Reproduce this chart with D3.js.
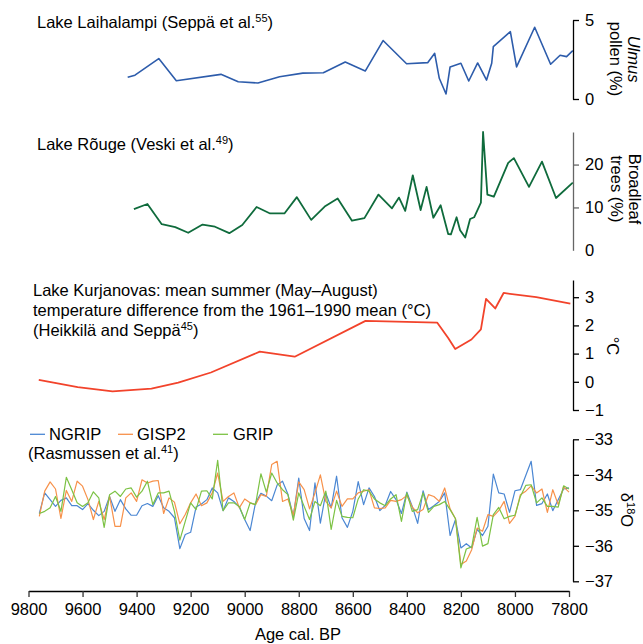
<!DOCTYPE html>
<html>
<head>
<meta charset="utf-8">
<script src="https://cdn.jsdelivr.net/npm/d3@7"></script>
<style>
  html, body { margin: 0; padding: 0; background: #fff; }
  svg { display: block; font-family: "Liberation Sans", Arial, Helvetica, sans-serif; }
</style>
</head>
<body>
<svg id="chart" width="643" height="644"></svg>
<script>
// ---- Lake Laihalampi: Ulmus pollen (%) ----
const laihalampiAge = [9433, 9406, 9318, 9253, 9088, 9024, 8951, 8871, 8785, 8709, 8628, 8554, 8488, 8401,
  8323, 8297, 8280, 8255, 8240, 8200, 8171, 8138, 8105, 8086, 8080, 8017, 7994, 7927, 7868, 7833, 7809, 7786];
const laihalampiUlmus = [1.37, 1.51, 2.56, 1.16, 1.56, 1.09, 1.01, 1.41, 1.64, 1.66, 2.34, 1.77, 3.70, 2.23,
  2.30, 2.89, 1.31, 0.32, 2.03, 2.26, 1.14, 2.28, 1.20, 2.26, 3.31, 4.26, 2.03, 4.54, 2.20, 2.77, 2.68, 3.06];

// ---- Lake Rõuge: broadleaf trees (%) ----
const rougeAge = [9410, 9360, 9307, 9257, 9209, 9156, 9110, 9057, 9009, 8956, 8906, 8853, 8807, 8754, 8704,
  8656, 8603, 8557, 8505, 8455, 8429, 8406, 8378, 8349, 8327, 8302, 8275, 8247, 8237, 8216, 8203, 8184, 8166,
  8151, 8126, 8118, 8102, 8078, 8025, 8004, 7948, 7900, 7848, 7786];
const rougeBroadleaf = [9.6, 10.8, 6.1, 5.4, 4.1, 6.0, 5.5, 4.0, 5.9, 10.1, 8.6, 8.6, 12.4, 7.1, 10.2,
  12.1, 6.9, 7.5, 13.0, 9.8, 12.3, 9.2, 17.5, 9.4, 14.8, 7.6, 10.5, 3.8, 3.7, 7.7, 4.7, 3.0, 7.3,
  7.7, 11.1, 27.6, 13.0, 12.5, 20.4, 21.5, 14.8, 20.7, 12.2, 15.8];

// ---- Lake Kurjanovas: summer temperature anomaly (°C) ----
const kurjanovasAge = [9762, 9618, 9489, 9345, 9246, 9125, 8944, 8815, 8553, 8288, 8247, 8221, 8161, 8126,
  8107, 8073, 8042, 7921, 7795];
const kurjanovasTemp = [0.07, -0.19, -0.34, -0.24, -0.03, 0.33, 1.07, 0.89, 2.16, 2.10, 1.55, 1.16, 1.50, 1.86,
  2.94, 2.60, 3.15, 3.00, 2.77];

// ---- Greenland ice cores: δ18O (‰), 20-year steps ----
const iceAge = [9760, 9740, 9720, 9700, 9680, 9660, 9640, 9620, 9600, 9580, 9560, 9540, 9520, 9500, 9480,
  9460, 9440, 9420, 9400, 9380, 9360, 9340, 9320, 9300, 9280, 9260, 9240, 9220, 9200, 9180, 9160, 9140, 9120,
  9100, 9080, 9060, 9040, 9020, 9000, 8980, 8960, 8940, 8920, 8900, 8880, 8860, 8840, 8820, 8800, 8780, 8760,
  8740, 8720, 8700, 8680, 8660, 8640, 8620, 8600, 8580, 8560, 8540, 8520, 8500, 8480, 8460, 8440, 8420, 8400,
  8380, 8360, 8340, 8320, 8300, 8280, 8260, 8240, 8220, 8200, 8180, 8160, 8140, 8120, 8100, 8080, 8060, 8040,
  8020, 8000, 7980, 7960, 7940, 7920, 7900, 7880, 7860, 7840, 7820, 7800];
const ngrip = [-35.09, -34.51, -34.70, -34.89, -34.72, -34.65, -34.87, -34.87, -34.98, -34.81, -35.00, -35.15,
  -35.03, -34.61, -35.03, -34.70, -34.96, -35.14, -35.14, -34.87, -34.81, -34.89, -34.59, -34.93, -35.03, -35.21,
  -36.08, -35.68, -35.62, -34.91, -34.82, -34.70, -34.37, -34.51, -35.01, -34.65, -34.75, -34.91, -35.26, -35.57,
  -34.79, -34.52, -34.60, -34.73, -34.29, -34.18, -34.55, -35.17, -34.09, -35.23, -35.57, -34.23, -35.36, -34.51,
  -34.93, -34.04, -35.21, -35.48, -35.03, -34.19, -34.84, -34.37, -34.61, -35.01, -34.86, -34.47, -34.70, -35.09,
  -34.49, -34.89, -35.37, -34.45, -34.98, -34.87, -34.75, -34.51, -35.71, -35.26, -36.06, -35.94, -36.06, -35.54,
  -35.71, -35.45, -33.98, -34.51, -34.54, -35.06, -34.45, -34.42, -34.02, -33.62, -34.86, -34.81, -34.54, -35.01,
  -34.70, -34.40, -34.37];
const gisp2 = [-35.17, -34.46, -34.20, -34.40, -35.23, -34.44, -34.75, -34.18, -34.32, -34.70, -35.26, -34.75,
  -35.26, -34.61, -35.45, -35.45, -34.65, -34.51, -34.75, -34.14, -34.23, -34.18, -34.16, -35.09, -34.65, -34.77,
  -35.38, -35.12, -34.79, -34.54, -34.87, -34.79, -34.51, -33.95, -34.75, -34.61, -34.51, -34.93, -34.68, -34.79,
  -34.84, -34.56, -34.61, -33.71, -33.62, -34.75, -34.68, -35.14, -34.20, -34.42, -34.96, -34.51, -34.00, -34.75,
  -34.93, -34.46, -34.89, -34.68, -34.68, -34.51, -34.46, -34.42, -34.93, -34.95, -34.93, -34.72, -34.75, -34.70,
  -34.58, -34.91, -35.07, -34.98, -34.56, -34.61, -34.75, -34.37, -34.96, -35.24, -36.53, -36.43, -36.11, -35.50,
  -35.59, -35.12, -35.17, -35.01, -34.75, -35.37, -35.17, -34.56, -34.46, -34.31, -34.51, -34.40, -35.06, -34.42,
  -34.84, -34.34, -34.49];
const grip = [-35.09, -35.03, -34.93, -34.61, -35.03, -34.07, -34.42, -34.79, -34.89, -34.79, -34.48, -34.65,
  -35.48, -34.56, -34.46, -34.61, -34.40, -34.37, -34.63, -34.46, -34.18, -34.84, -34.51, -34.51, -34.46, -35.03,
  -35.84, -35.31, -34.79, -34.98, -34.46, -34.45, -34.68, -33.59, -35.01, -34.79, -34.79, -34.89, -35.26, -34.79,
  -34.84, -33.97, -34.49, -33.95, -34.23, -34.42, -34.56, -35.28, -34.51, -34.89, -35.26, -34.75, -34.87, -34.46,
  -35.54, -34.72, -35.17, -35.20, -35.21, -34.68, -34.42, -34.46, -34.68, -34.79, -34.87, -34.68, -34.56, -35.31,
  -34.51, -35.03, -34.98, -34.51, -35.06, -34.89, -34.84, -34.75, -34.98, -35.24, -36.62, -36.09, -36.03, -35.20,
  -36.01, -35.94, -35.12, -34.92, -35.24, -35.17, -35.14, -34.61, -34.30, -34.28, -34.79, -34.65, -34.89, -34.89,
  -34.91, -34.31, -34.40];

// ---- Axis ticks ----
const ageTicks = [9800, 9600, 9400, 9200, 9000, 8800, 8600, 8400, 8200, 8000, 7800];
const ulmusTicks = [0, 5];
const broadleafTicks = [0, 10, 20];
const tempTicks = [-1, 0, 1, 2, 3];
const isoTicks = [-37, -36, -35, -34, -33];

const FONT = '"Liberation Sans", Arial, Helvetica, sans-serif';
const FS = 16.5;
const svg = d3.select("#chart");

const x = d3.scaleLinear().domain([9800, 7800]).range([28.5, 569]);
const axisX = 573;

const yUlmus = d3.scaleLinear().domain([0, 5]).range([99, 20]);
const yBroad = d3.scaleLinear().domain([0, 27.6]).range([250.3, 132]);
const yTemp = d3.scaleLinear().domain([-1, 3.61]).range([410, 280]);
const yIso = d3.scaleLinear().domain([-37, -33]).range([581.3, 439.3]);

function drawSeries(ages, vals, y, color, width) {
  const pts = ages.map((a, i) => [a, vals[i]]);
  svg.append("path")
    .datum(pts)
    .attr("fill", "none")
    .attr("stroke", color)
    .attr("stroke-width", width)
    .attr("stroke-linejoin", "round")
    .attr("d", d3.line().x(d => x(d[0])).y(d => y(d[1])));
}

function rightAxis(y, ticks, color) {
  const g = svg.append("g")
    .attr("transform", `translate(${axisX},0)`)
    .call(d3.axisRight(y).tickValues(ticks).tickSize(6).tickSizeOuter(0).tickPadding(6)
      .tickFormat(d3.format("d")));
  g.attr("font-family", FONT).attr("font-size", FS);
  g.select(".domain").attr("stroke", color).attr("stroke-width", 1.3);
  g.selectAll(".tick line").attr("stroke", color).attr("stroke-width", 1.3);
  g.selectAll(".tick text").attr("fill", "#000");
  return g;
}

function rotatedLabel(cx, cy, lines) {
  const t = svg.append("text")
    .attr("transform", `translate(${cx},${cy}) rotate(90)`)
    .attr("text-anchor", "middle")
    .attr("font-size", FS)
    .attr("fill", "#000");
  lines.forEach((ln, i) => {
    const s = t.append("tspan").attr("x", 0).attr("dy", i === 0 ? 0 : 18);
    ln.forEach(part => {
      const p = s.append("tspan").text(part.text);
      if (part.italic) p.attr("font-style", "italic");
    });
  });
  return t;
}

function titleWithSup(x0, y0, before, sup, after) {
  const t = svg.append("text").attr("x", x0).attr("y", y0).attr("font-size", FS).attr("fill", "#000");
  t.append("tspan").text(before);
  t.append("tspan").attr("font-size", 11).attr("dy", -6).text(sup);
  t.append("tspan").attr("dy", 6).text(after);
  return t;
}

// ---- Panel 1: Laihalampi ----
titleWithSup(37, 28, "Lake Laihalampi (Seppä et al.", "55", ")");
drawSeries(laihalampiAge, laihalampiUlmus, yUlmus, "#2d5cab", 1.6);
rightAxis(yUlmus, ulmusTicks, "#000");
rotatedLabel(628, 59, [[{ text: "Ulmus", italic: true }], [{ text: "pollen (%)" }]]);

// ---- Panel 2: Rõuge ----
titleWithSup(37, 150, "Lake Rõuge (Veski et al.", "49", ")");
drawSeries(rougeAge, rougeBroadleaf, yBroad, "#0f6b3c", 1.8);
const gBroad = rightAxis(yBroad, broadleafTicks, "#666");
gBroad.selectAll(".tick").filter(d => d === 0).select("line").attr("x2", 0);
rotatedLabel(629, 189, [[{ text: "Broadleaf" }], [{ text: "trees (%)" }]]);

// ---- Panel 3: Kurjanovas ----
svg.append("text").attr("x", 33).attr("y", 296).attr("font-size", FS)
  .text("Lake Kurjanovas: mean summer (May–August)");
svg.append("text").attr("x", 33).attr("y", 316).attr("font-size", FS)
  .text("temperature difference from the 1961–1990 mean (°C)");
titleWithSup(33, 336, "(Heikkilä and Seppä", "45", ")");
drawSeries(kurjanovasAge, kurjanovasTemp, yTemp, "#f2432b", 1.8);
rightAxis(yTemp, tempTicks, "#000");
rotatedLabel(607, 346, [[{ text: "°C" }]]);

// ---- Panel 4: ice cores ----
const iceSeries = [
  { name: "NGRIP", vals: ngrip, color: "#4b87d3" },
  { name: "GISP2", vals: gisp2, color: "#f7914a" },
  { name: "GRIP", vals: grip, color: "#7cc244" }
];
iceSeries.forEach(s => drawSeries(iceAge, s.vals, yIso, s.color, 1.2));
rightAxis(yIso, isoTicks, "#000");

// δ18O label with superscript
const iso = svg.append("text")
  .attr("transform", "translate(621,510) rotate(90)")
  .attr("text-anchor", "middle").attr("font-size", FS).attr("fill", "#000");
iso.append("tspan").text("δ");
iso.append("tspan").attr("font-size", 11).attr("dy", -6).text("18");
iso.append("tspan").attr("dy", 6).text("O");

// legend
const legendX = [[30, 45, 49], [118, 133, 137], [213, 228, 233]];
iceSeries.forEach((s, i) => {
  const [x1, x2, tx] = legendX[i];
  svg.append("line").attr("x1", x1).attr("x2", x2).attr("y1", 434.3).attr("y2", 434.3)
    .attr("stroke", s.color).attr("stroke-width", 1.3);
  svg.append("text").attr("x", tx).attr("y", 440).attr("font-size", FS).text(s.name);
});
titleWithSup(28, 459, "(Rasmussen et al.", "41", ")");

// ---- Shared age axis ----
const gx = svg.append("g")
  .attr("transform", "translate(0,591)")
  .call(d3.axisBottom(x).tickValues(ageTicks).tickSize(6).tickSizeOuter(0).tickPadding(6)
    .tickFormat(d3.format("d")));
gx.attr("font-family", FONT).attr("font-size", FS);
gx.select(".domain").attr("stroke", "#000").attr("stroke-width", 1.3);
gx.selectAll(".tick line").attr("stroke", "#333").attr("stroke-width", 1.3);
gx.selectAll(".tick text").attr("fill", "#000");

svg.append("text").attr("x", 298).attr("y", 640).attr("text-anchor", "middle")
  .attr("font-size", FS).text("Age cal. BP");
</script>
</body>
</html>
